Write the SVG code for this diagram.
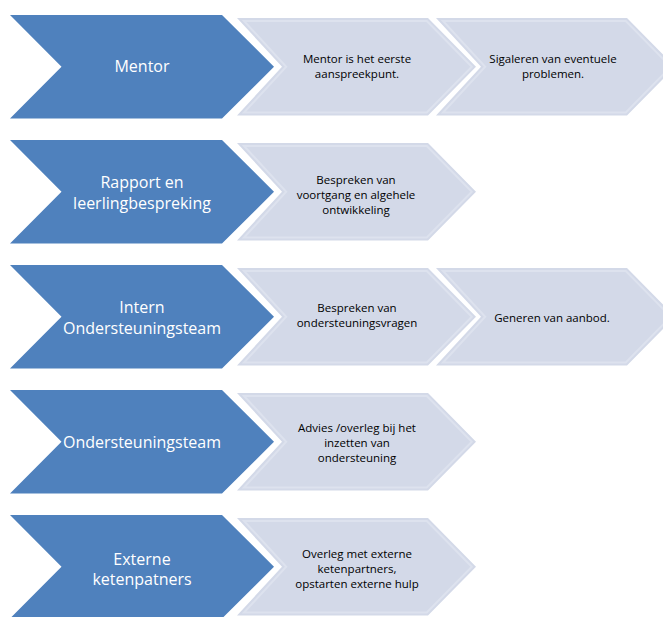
<svg xmlns="http://www.w3.org/2000/svg" xmlns:xlink="http://www.w3.org/1999/xlink" width="663" height="617" viewBox="0 0 663 617">
<style>
.blue{fill:#4F81BD;}
.lfill{fill:#D3D9E8;}
.lline{fill:none;stroke:#DDE2EE;stroke-width:2;}
.bt{font-family:"Open Sans","Liberation Sans",sans-serif;font-size:16px;fill:#FFFFFF;text-anchor:middle;}
.lt{font-family:"Open Sans","Liberation Sans",sans-serif;font-size:11.5px;fill:#000000;text-anchor:middle;}
</style>
<defs>
<polygon id="bshape" class="blue" points="10,0 222,0 274,51.75 222,103.5 10,103.5 61.5,51.75"/>
<g id="lshape">
<polygon class="lfill" points="0,3 191,3 239,51.75 191,100.5 0,100.5 45,51.75"/>
<polygon class="lline" points="7,6 189.8,6 234.8,51.75 189.8,97.5 7,97.5 49.2,51.75"/>
</g>
</defs>
<g id="connectors"/>

<g id="row1-mentor" transform="translate(0,15)"><use xlink:href="#bshape"/></g>
<g id="row1-step1" transform="translate(237,15)"><use xlink:href="#lshape"/></g>
<g id="row1-step2" transform="translate(436,15)"><use xlink:href="#lshape"/></g>
<text class="bt" x="142" y="72">Mentor</text>
<text class="lt" x="357" y="62.5">Mentor is het eerste</text>
<text class="lt" x="357" y="77.5">aanspreekpunt.</text>
<text class="lt" x="553" y="62.5">Sigaleren van eventuele</text>
<text class="lt" x="553" y="77.5">problemen.</text>

<g id="row2-rapport" transform="translate(0,140)"><use xlink:href="#bshape"/></g>
<g id="row2-step1" transform="translate(237,140)"><use xlink:href="#lshape"/></g>
<text class="bt" x="142" y="188">Rapport en</text>
<text class="bt" x="142" y="209">leerlingbespreking</text>
<text class="lt" x="356" y="183.5">Bespreken van</text>
<text class="lt" x="356" y="198.5">voortgang en algehele</text>
<text class="lt" x="356" y="213.5">ontwikkeling</text>

<g id="row3-intern" transform="translate(0,265)"><use xlink:href="#bshape"/></g>
<g id="row3-step1" transform="translate(237,265)"><use xlink:href="#lshape"/></g>
<g id="row3-step2" transform="translate(436,265)"><use xlink:href="#lshape"/></g>
<text class="bt" x="142" y="313">Intern</text>
<text class="bt" x="142" y="334">Ondersteuningsteam</text>
<text class="lt" x="357" y="312">Bespreken van</text>
<text class="lt" x="357" y="327">ondersteuningsvragen</text>
<text class="lt" x="552" y="321.5">Generen van aanbod.</text>

<g id="row4-ondersteuningsteam" transform="translate(0,390)"><use xlink:href="#bshape"/></g>
<g id="row4-step1" transform="translate(237,390)"><use xlink:href="#lshape"/></g>
<text class="bt" x="142" y="448">Ondersteuningsteam</text>
<text class="lt" x="357" y="432">Advies /overleg bij het</text>
<text class="lt" x="357" y="447">inzetten van</text>
<text class="lt" x="357" y="462">ondersteuning</text>

<g id="row5-extern" transform="translate(0,515)"><use xlink:href="#bshape"/></g>
<g id="row5-step1" transform="translate(237,515)"><use xlink:href="#lshape"/></g>
<text class="bt" x="142" y="565">Externe</text>
<text class="bt" x="142" y="585">ketenpatners</text>
<text class="lt" x="357" y="557.5">Overleg met externe</text>
<text class="lt" x="357" y="572.5">ketenpartners,</text>
<text class="lt" x="357" y="587.5">opstarten externe hulp</text>
</svg>
